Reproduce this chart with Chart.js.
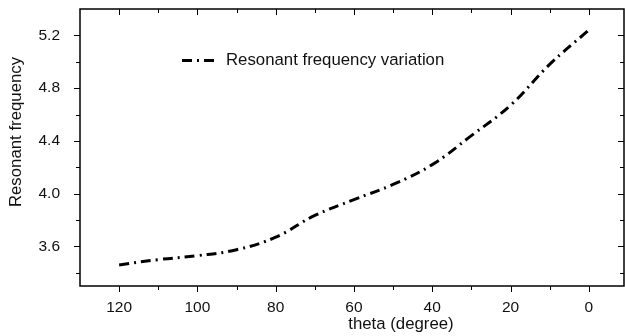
<!DOCTYPE html>
<html>
<head>
<meta charset="utf-8">
<script src="https://cdn.jsdelivr.net/npm/chart.js@4"></script>
<style>
  html, body { margin: 0; padding: 0; background: #fff; }
  #wrap { width: 625px; height: 336px; }
</style>
</head>
<body>
<div id="wrap"><canvas id="myChart" width="625" height="336"></canvas></div>
<script>
// data
const theta = [120, 110, 100, 90, 80, 70, 60, 50, 40, 30, 20, 10, 0];
const freq = [3.46, 3.50, 3.53, 3.575, 3.67, 3.835, 3.955, 4.07, 4.22, 4.44, 4.67, 4.98, 5.24];
const xTicks = [120, 100, 80, 60, 40, 20, 0];
const xMinor = [110, 90, 70, 50, 30, 10];
const yTicks = [3.6, 4.0, 4.4, 4.8, 5.2];
const yMinor = [3.4, 3.8, 4.2, 4.6, 5.0];
const seriesLabel = "Resonant frequency variation";

const FONT = "'Liberation Sans', Arial, sans-serif";
const DASH = [10, 5, 2, 5];

// frame, ticks, axis titles and legend
const framePlugin = {
  id: "frame",
  afterDraw(chart) {
    const ctx = chart.ctx;
    const a = chart.chartArea;
    const xs = chart.scales.x, ys = chart.scales.y;
    ctx.save();
    ctx.strokeStyle = "#000";
    ctx.lineWidth = 1.5;
    ctx.strokeRect(a.left, a.top, a.right - a.left, a.bottom - a.top);
    ctx.lineWidth = 1;
    ctx.beginPath();
    const tickX = (v, len) => {
      const px = Math.round(xs.getPixelForValue(v)) + 0.5;
      ctx.moveTo(px, a.bottom); ctx.lineTo(px, a.bottom + len);
      ctx.moveTo(px, a.top); ctx.lineTo(px, a.top + len);
    };
    const tickY = (v, len) => {
      const py = Math.round(ys.getPixelForValue(v)) + 0.5;
      ctx.moveTo(a.left, py); ctx.lineTo(a.left - len, py);
      ctx.moveTo(a.right, py); ctx.lineTo(a.right - len, py);
    };
    xTicks.forEach(v => tickX(v, 6));
    xMinor.forEach(v => tickX(v, 4));
    yTicks.forEach(v => tickY(v, 6));
    yMinor.forEach(v => tickY(v, 4));
    ctx.stroke();

    ctx.fillStyle = "#111";
    ctx.font = "16.8px " + FONT;
    ctx.textAlign = "center";
    ctx.textBaseline = "middle";
    ctx.fillText("theta (degree)", 401, 324);
    ctx.save();
    ctx.translate(16, 132);
    ctx.rotate(-Math.PI / 2);
    ctx.fillText("Resonant frequency", 0, 0);
    ctx.restore();

    // legend
    ctx.strokeStyle = "#000";
    ctx.lineWidth = 3;
    ctx.setLineDash(DASH);
    ctx.beginPath();
    ctx.moveTo(182, 60.5); ctx.lineTo(214, 60.5);
    ctx.stroke();
    ctx.setLineDash([]);
    ctx.textAlign = "left";
    ctx.fillText(chart.data.datasets[0].label, 226, 60);
    ctx.restore();
  }
};

const config = {
  type: "line",
  data: {
    datasets: [{
      label: seriesLabel,
      data: theta.map((t, i) => ({ x: t, y: freq[i] })),
      borderColor: "#000",
      borderWidth: 3,
      borderDash: DASH,
      pointRadius: 0,
      tension: 0.4,
      fill: false
    }]
  },
  options: {
    responsive: false,
    animation: false,
    layout: { padding: { top: 9, right: 1, left: 0, bottom: 0 } },
    plugins: { legend: { display: false }, tooltip: { enabled: false } },
    scales: {
      x: {
        type: "linear",
        reverse: true,
        min: -9,
        max: 130,
        afterBuildTicks: s => { s.ticks = xTicks.map(v => ({ value: v })); },
        afterFit: s => { s.height = 50; s.paddingLeft = 0; s.paddingRight = 0; },
        grid: { display: false },
        border: { display: false },
        ticks: { color: "#111", font: { family: FONT, size: 15.5 }, padding: 4, maxRotation: 0 }
      },
      y: {
        type: "linear",
        min: 3.3,
        max: 5.4,
        afterBuildTicks: s => { s.ticks = yTicks.map(v => ({ value: v })); },
        afterFit: s => { s.width = 80; s.paddingTop = 0; s.paddingBottom = 0; },
        grid: { display: false },
        border: { display: false },
        ticks: { color: "#111", font: { family: FONT, size: 15.5 }, padding: 12, callback: v => v.toFixed(1) }
      }
    }
  },
  plugins: [framePlugin]
};

const myChart = new Chart(document.getElementById("myChart"), config);
</script>
</body>
</html>
